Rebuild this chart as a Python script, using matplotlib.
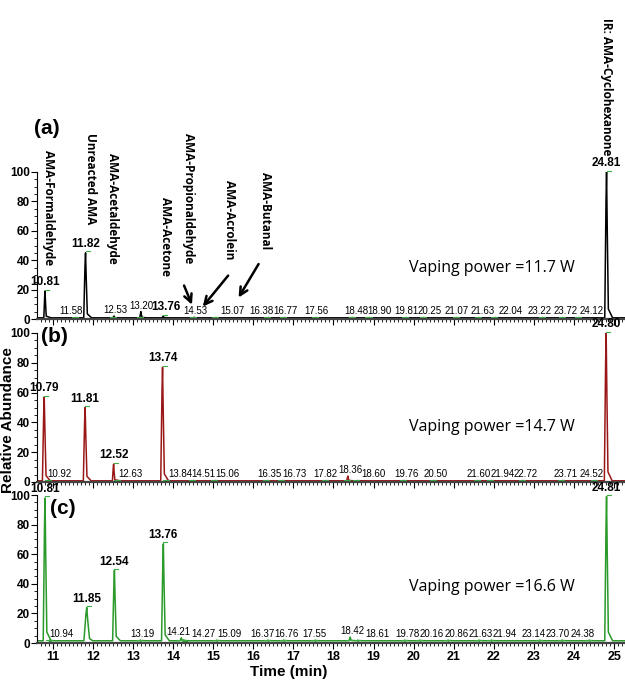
import matplotlib
matplotlib.use("Agg")
import matplotlib.pyplot as plt
from matplotlib.ticker import MultipleLocator

plt.rcParams['font.family'] = ['Liberation Sans', 'DejaVu Sans']

#-----------------------Chromatogram data----------------------------------
# panel (a) : vaping power 11.7 W
rt_a = [10.81, 11.58, 11.82, 12.53, 13.20, 13.76, 14.53, 15.07, 16.38, 16.77, 17.56,
        18.48, 18.90, 19.81, 20.25, 21.07, 21.63, 22.04, 23.22, 23.72, 24.12, 24.81]
h_a = [19, 1, 45, 2, 5, 2, 1.2, 1, 1, 1, 1, 1, 1, 1, 1, 1, 1, 1, 1, 1, 1, 100]
lx_a = [10.81, 11.46, 11.82, 12.56, 13.20, 13.83, 14.55, 15.47, 16.20, 16.80, 17.57,
        18.57, 19.14, 19.81, 20.39, 21.06, 21.71, 22.41, 23.15, 23.78, 24.45, 24.81]
bold_a = [10.81, 11.82, 13.76, 24.81]

# panel (b) : vaping power 14.7 W
rt_b = [10.79, 10.92, 11.81, 12.52, 12.63, 13.74, 13.84, 14.51, 15.06, 16.35, 16.73,
        17.82, 18.36, 18.60, 19.76, 20.50, 21.60, 21.94, 22.72, 23.71, 24.52, 24.80]
h_b = [57, 1, 50, 12, 1, 77, 1, 1, 1, 1, 1, 1, 4, 1, 1, 1, 1, 1, 1, 1, 1, 100]
lx_b = [10.79, 11.18, 11.81, 12.52, 12.93, 13.74, 14.18, 14.75, 15.37, 16.40, 17.02,
        17.79, 18.42, 18.99, 19.81, 20.54, 21.63, 22.21, 22.78, 23.78, 24.45, 24.80]
bold_b = [10.79, 11.81, 12.52, 13.74, 24.80]

# panel (c) : vaping power 16.6 W
rt_c = [10.81, 10.94, 11.85, 12.54, 13.19, 13.76, 14.21, 14.27, 15.09, 16.37, 16.76,
        17.55, 18.42, 18.61, 19.78, 20.16, 20.86, 21.63, 21.94, 23.14, 23.70, 24.38, 24.81]
h_c = [98, 2, 24, 49, 2, 67, 3.5, 2, 2, 2, 2, 2, 4, 2, 2, 2, 2, 2, 2, 2, 2, 2, 99]
lx_c = [10.81, 11.21, 11.85, 12.54, 13.23, 13.76, 14.13, 14.75, 15.42, 16.22, 16.82,
        17.52, 18.47, 19.09, 19.84, 20.44, 21.07, 21.66, 22.28, 22.98, 23.58, 24.22, 24.81]
bold_c = [10.81, 11.85, 12.54, 13.76, 24.81]

base_a, base_b, base_c = 0.8, 0.8, 1.5

compounds = ['AMA-Formaldehyde', 'Unreacted AMA', 'AMA-Acetaldehyde', 'AMA-Acetone',
             'AMA-Propionaldehyde', 'AMA-Acrolein', 'AMA-Butanal']
powers = ['Vaping power =11.7 W', 'Vaping power =14.7 W', 'Vaping power =16.6 W']
#------------------------------------------------------------------------

W, H = 625, 681


def fx(px):
    return px / W


def fy(py):
    return 1 - py / H


def trace(rts, hs, base):
    """Build a spiky chromatogram trace from peak list."""
    xs, ys = [10.6], [base]
    for rt, h in zip(rts, hs):
        w = 0.045 if h > 20 else 0.03
        if rt == 11.85:
            w = 0.07
        xs += [rt - w, rt - w * 0.3, rt, rt + w * 0.4, rt + w, rt + 0.15]
        ys += [base, h * 0.8, h, h * 0.6, base + h * 0.06, base]
    xs.append(25.3)
    ys.append(base)
    return xs, ys


fig = plt.figure(figsize=(6.25, 6.81), dpi=100)

panels = [
    (rt_a, h_a, lx_a, bold_a, base_a, 'black', 172, 319, 0.35),
    (rt_b, h_b, lx_b, bold_b, base_b, '#9a1717', 333, 482, 0.37),
    (rt_c, h_c, lx_c, bold_c, base_c, '#2a9a2a', 495, 643, 0.38),
]

axes = []
for i, (rts, hs, lxs, bold, base, col, top, bot, py) in enumerate(panels):
    ax = fig.add_axes([fx(37), fy(bot), fx(625 - 37), (bot - top) / H])
    x, y = trace(rts, hs, base)
    ax.plot(x, y, color=col, lw=1.1)
    ax.set_xlim(10.61, 25.27)
    ax.set_ylim(0, 100)
    ax.spines['top'].set_visible(False)
    ax.spines['right'].set_visible(False)
    ax.spines['bottom'].set_color('#444444')
    ax.spines['bottom'].set_linewidth(1.6)
    ax.yaxis.set_major_locator(MultipleLocator(20))
    ax.yaxis.set_minor_locator(MultipleLocator(5))
    ax.xaxis.set_major_locator(MultipleLocator(1))
    ax.xaxis.set_minor_locator(MultipleLocator(0.1))
    ax.tick_params(axis='y', which='major', length=4, width=0.8, pad=1, labelsize=8.5)
    ax.tick_params(axis='y', which='minor', length=2, width=0.6)
    ax.tick_params(axis='x', which='major', length=4, width=0.8, pad=2, labelsize=9)
    ax.tick_params(axis='x', which='minor', length=2, width=0.6)
    for lab in ax.get_yticklabels():
        lab.set_fontweight('bold')
    if i < 2:
        ax.tick_params(axis='x', labelbottom=False)
    else:
        for lab in ax.get_xticklabels():
            lab.set_fontweight('bold')

    # peak labels + integration marks
    for rt, h, lx in zip(rts, hs, lxs):
        if rt in bold:
            ax.text(lx, h + 2, f'{rt:.2f}', ha='center', va='bottom', fontsize=8.5,
                    fontweight='bold', clip_on=False)
            ax.plot([rt, rt + 0.1], [h + 1, h + 1], color='#3cb043', lw=0.8, clip_on=False)
        else:
            ax.text(lx, max(base + 1.5, h + 0.5), f'{rt:.2f}', ha='center', va='bottom',
                    fontsize=7)
            ax.plot([rt - 0.1, rt + 0.05], [base + 0.8, base + 0.8], color='#3cb043', lw=0.8)

    ax.text(0.774, py, powers[i], transform=ax.transAxes, ha='center', va='center',
            fontsize=11.5, family='Open Sans')
    axes.append(ax)

# panel tags
fig.text(fx(47), fy(128), '(a)', fontsize=15, fontweight='bold', ha='center', va='center')
fig.text(fx(54), fy(336), '(b)', fontsize=15, fontweight='bold', ha='center', va='center')
fig.text(fx(63), fy(509), '(c)', fontsize=15, fontweight='bold', ha='center', va='center')

# compound names (vertical)
name_x = [48, 90, 113, 165, 188, 230, 265]
name_top = [150, 133, 153, 197, 133, 180, 172]
for name, px, pt in zip(compounds, name_x, name_top):
    fig.text(fx(px), fy(pt), name, rotation=270, ha='center', va='top', fontsize=8.5,
             fontweight='bold', family='Open Sans')
fig.text(fx(607), fy(155), 'IR: AMA-Cyclohexanone', rotation=270, ha='center', va='bottom',
         fontsize=8.5, fontweight='bold', family='Open Sans')

# arrows in panel (a)
ax = axes[0]
arr = dict(arrowstyle='->', color='black', lw=1.8, mutation_scale=14)
ax.annotate('', xy=(14.50, 8), xytext=(14.25, 24.5), arrowprops=arr, annotation_clip=False)
ax.annotate('', xy=(14.70, 7), xytext=(15.42, 31), arrowprops=arr, annotation_clip=False)
ax.annotate('', xy=(15.60, 13), xytext=(16.17, 39), arrowprops=arr, annotation_clip=False)

fig.text(fx(8), fy(420), 'Relative Abundance', rotation=90, ha='center', va='center',
         fontsize=11, fontweight='bold')
fig.text(fx(289), fy(672), 'Time (min)', ha='center', va='center', fontsize=11,
         fontweight='bold')

fig.savefig('out.png', dpi=100)
